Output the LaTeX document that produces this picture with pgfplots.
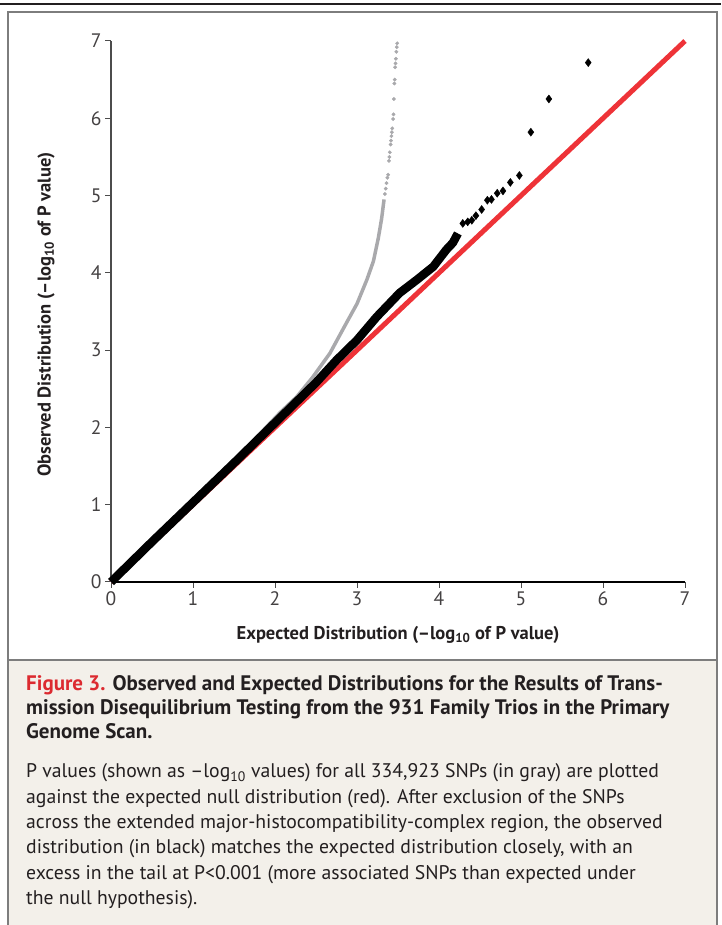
\documentclass[border=0pt]{standalone}
\usepackage{pgfplots}
\pgfplotsset{compat=1.18}
\usepackage{fontspec}
\setmainfont{PT Sans}
\definecolor{redline}{HTML}{EE3338}
\definecolor{graypt}{HTML}{A9A9AC}
\definecolor{capbg}{HTML}{F3F0EA}
\definecolor{figred}{HTML}{DC2A30}
\definecolor{framegray}{HTML}{7D7D7D}
\definecolor{ink}{HTML}{231F20}

\begin{document}
\begin{tikzpicture}[x=1pt,y=1pt]
\useasboundingbox (0,0) rectangle (721,925);
% frame and caption panel
\fill[capbg] (8,0) rectangle (717,265);
\draw[framegray, line width=2pt] (8,0) -- (8,913) -- (717,913) -- (717,0);
\draw[framegray, line width=2pt] (8,265) -- (717,265);
\draw[ink, line width=1.6pt] (0,921) -- (721,921);

\begin{axis}[%
at={(111pt,343pt)}, anchor=south west,
width=574pt, height=541pt,
scale only axis,
xmin=0, xmax=7,
ymin=0, ymax=7,
xtick={0,1,...,7},
ytick={0,1,...,7},
axis lines*=left,
x axis line style={-, line width=1.8pt, black},
y axis line style={-, line width=1.2pt, black!70},
tick align=outside,
major tick length=6pt,
tick style={black!70, line width=1pt},
/pgf/number format/assume math mode=true,
tick label style={font=\fontsize{19.5}{19.5}\selectfont, text=ink!85},
label style={font=\bfseries\fontsize{18.5}{18.5}\selectfont, text=ink},
xlabel={Expected Distribution (–log\textsubscript{10} of P value)},
ylabel={Observed Distribution (–log\textsubscript{10} of P value)},
xlabel style={at={(axis description cs:0.5,-0.098)}, anchor=center},
ylabel style={at={(axis description cs:-0.113,0.494)}, anchor=center},
clip=false]

% expected null distribution
\addplot [color=redline, solid, line width=5pt]
coordinates{
(0,0)(7,7)
};

% all SNPs, dense part
\addplot [color=graypt, solid, line width=3.5pt, line join=round]
coordinates{
(0,0)(0.5,0.51)(1.0,1.03)(1.5,1.56)(1.8,1.9)(2.06,2.19)(2.26,2.39)(2.46,2.65)
(2.67,2.96)(2.87,3.35)(3.0,3.6)(3.12,3.91)(3.2,4.15)(3.26,4.45)(3.30,4.7)(3.33,4.95)
};

% all SNPs, sparse tail
\addplot [only marks, mark=*, mark size=1.7pt, color=graypt]
coordinates{
(3.34,5.02)(3.35,5.09)(3.36,5.16)(3.37,5.23)(3.38,5.27)(3.39,5.45)(3.395,5.50)
(3.40,5.56)(3.41,5.66)(3.415,5.71)(3.42,5.77)(3.425,5.82)(3.43,5.87)(3.44,5.99)
(3.445,6.05)(3.45,6.25)(3.455,6.45)(3.46,6.50)(3.465,6.66)(3.47,6.71)(3.475,6.77)
(3.48,6.86)(3.485,6.92)(3.49,6.97)
};

% MHC excluded, dense part
\addplot [color=black, solid, line width=8.5pt, line join=round]
coordinates{
(0,0)(0.5,0.52)(1.0,1.03)(1.5,1.54)(2.0,2.06)(2.5,2.58)(2.75,2.87)(3.0,3.13)
(3.24,3.43)(3.52,3.74)(3.73,3.91)(3.93,4.08)(4.09,4.30)(4.17,4.39)(4.23,4.51)
};

% MHC excluded, sparse tail
\addplot [only marks, mark=diamond*, mark size=4pt, color=black]
coordinates{
(4.29,4.64)(4.35,4.66)(4.40,4.68)(4.45,4.74)(4.52,4.82)(4.59,4.94)(4.64,4.95)
(4.71,5.03)(4.78,5.06)(4.87,5.17)(4.98,5.26)(5.12,5.82)(5.34,6.25)(5.82,6.72)
};

\end{axis}

% caption
\begin{scope}[every node/.style={anchor=base west, inner sep=0pt, text=ink}]
\node[font=\bfseries\fontsize{21}{24}\selectfont] at (26,234)
  {\textcolor{figred}{Figure 3.} Observed and Expected Distributions for the Results of Trans-};
\node[font=\bfseries\fontsize{21}{24}\selectfont] at (26,210)
  {mission Disequilibrium Testing from the 931 Family Trios in the Primary};
\node[font=\bfseries\fontsize{21}{24}\selectfont] at (26,186)
  {Genome Scan.};
\node[font=\fontsize{19.7}{25}\selectfont] at (26,147)
  {P values (shown as –log\textsubscript{10} values) for all 334,923 SNPs (in gray) are plotted};
\node[font=\fontsize{19.7}{25}\selectfont] at (26,121)
  {against the expected null distribution (red). After exclusion of the SNPs};
\node[font=\fontsize{19.7}{25}\selectfont] at (26,96)
  {across the extended major-histocompatibility-complex region, the observed};
\node[font=\fontsize{19.7}{25}\selectfont] at (26,71)
  {distribution (in black) matches the expected distribution closely, with an};
\node[font=\fontsize{19.7}{25}\selectfont] at (26,45)
  {excess in the tail at P<0.001 (more associated SNPs than expected under};
\node[font=\fontsize{19.7}{25}\selectfont] at (26,20)
  {the null hypothesis).};
\end{scope}
\end{tikzpicture}
\end{document}
